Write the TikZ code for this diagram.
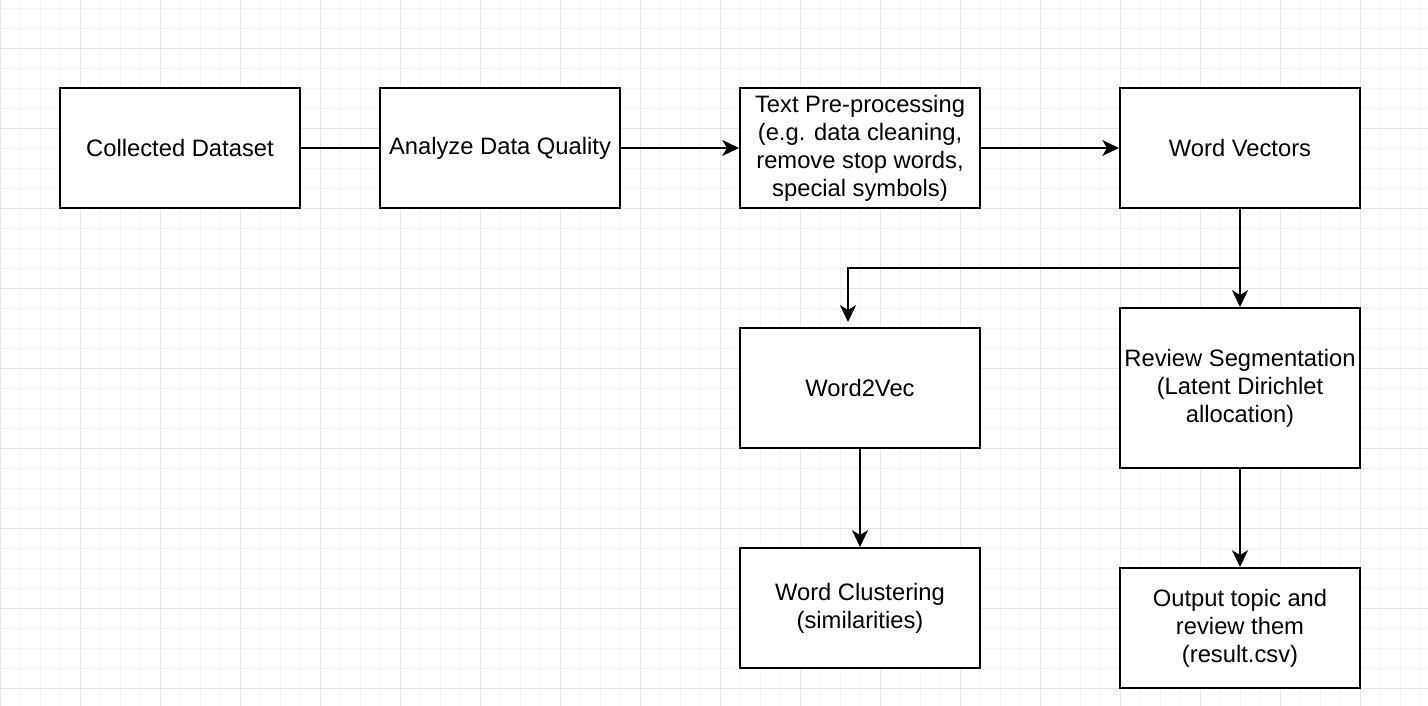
\documentclass[tikz,border=0pt]{standalone}
\usepackage{fontspec}
\setmainfont{Liberation Sans}
\usetikzlibrary{arrows.meta,positioning}

\begin{document}
\begin{tikzpicture}[every node/.style={font=\fontsize{16.9}{19.9}\selectfont},
    box/.style={draw, line width=1.4pt, fill=white, minimum width=6cm, minimum height=3cm, inner sep=2pt, align=center},
    link/.style={line width=1.4pt, -{Stealth[length=0.42cm, width=0.4cm, inset=0.12cm]}}]
    \useasboundingbox (0,0) rectangle (35.7,-17.65);

    % Background grid
    \foreach \x in {0,0.5,...,35.5} \draw[black!5, line width=0.7pt] (\x,0) -- (\x,-17.65);
    \foreach \y in {0.2,0.7,...,17.4} \draw[black!5, line width=0.7pt] (0,-\y) -- (35.7,-\y);
    \foreach \x in {0,2,...,34} \draw[black!10, line width=0.7pt] (\x,0) -- (\x,-17.65);
    \foreach \y in {1.2,3.2,...,17.2} \draw[black!10, line width=0.7pt] (0,-\y) -- (35.7,-\y);

    % Top row
    \node[box] (data) at (4.5,-3.7) {Collected Dataset};
    \node[box] (quality) at (12.5,-3.7) {Analyze Data Quality};
    \node[box] (prep) at (21.5,-3.7) {Text Pre-processing\\(e.g. data cleaning,\\remove stop words,\\special symbols)};
    \node[box] (vectors) at (31,-3.7) {Word Vectors};

    % Word2Vec branch
    \node[box] (w2v) at (21.5,-9.7) {Word2Vec};
    \node[box] (cluster) at (21.5,-15.2) {Word Clustering\\(similarities)};

    % LDA branch
    \node[box, minimum height=4cm] (segment) at (31,-9.7) {Review Segmentation\\(Latent Dirichlet\\allocation)};
    \node[box] (topic) at (31,-15.7) {Output topic and\\review them\\(result.csv)};

    % Split point
    \coordinate (split) at (31,-6.7);
    \coordinate (w2vin) at (21.2,-8.05);

    % Arrows
    \draw[line width=1.4pt] (data) -- (quality);
    \draw[link] (quality) -- (prep);
    \draw[link] (prep) -- (vectors);
    \draw[link] (vectors) -- (segment);
    \draw[link] (split) -| (w2vin);
    \draw[link] (w2v) -- (cluster);
    \draw[link] (segment) -- (topic);

\end{tikzpicture}
\end{document}
